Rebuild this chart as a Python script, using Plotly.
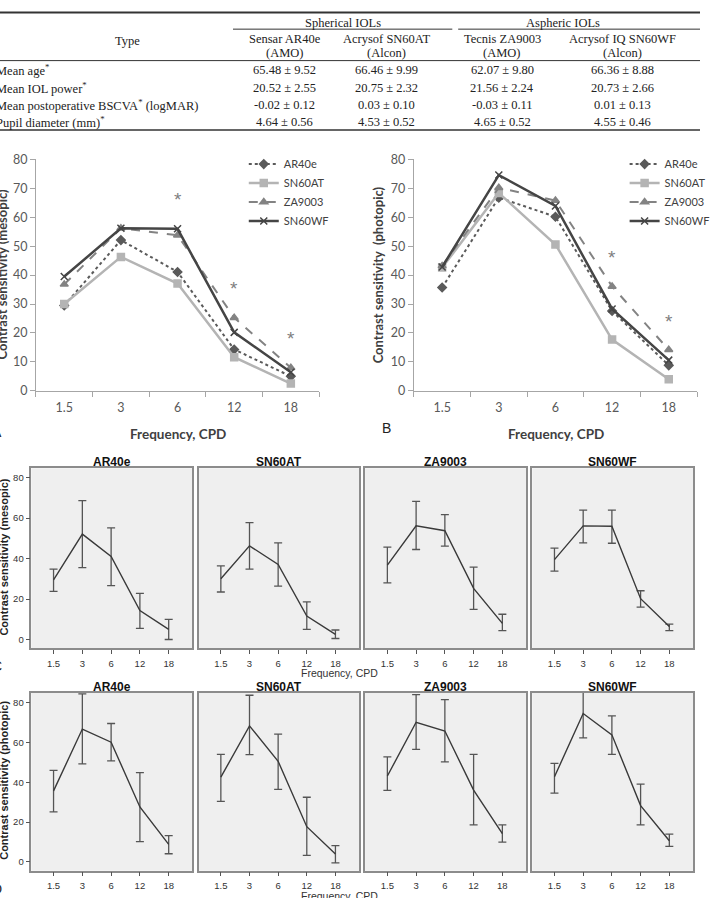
import plotly.graph_objects as go

W, H = 715, 898
def px(x): return x / W
def py(y): return 1 - y / H

# ---------------- data ----------------
freq = ["1.5", "3", "6", "12", "18"]
lenses = ["AR40e", "SN60AT", "ZA9003", "SN60WF"]

# Panel A (mesopic) means
meso_AR40e = [29.5, 52.1, 41.1, 14.3, 5.0]
meso_SN60AT = [30.0, 46.3, 37.1, 11.6, 2.5]
meso_ZA9003 = [36.8, 56.2, 53.8, 25.3, 8.0]
meso_SN60WF = [39.5, 56.2, 56.0, 20.2, 6.4]

# Panel B (photopic) means
phot_AR40e = [35.7, 66.8, 60.2, 27.6, 8.8]
phot_SN60AT = [42.6, 68.4, 50.6, 17.7, 4.0]
phot_ZA9003 = [43.2, 70.2, 65.8, 36.1, 14.2]
phot_SN60WF = [42.8, 74.6, 63.9, 28.3, 10.6]

# Panel C (mesopic) error-bar limits
meso_lo_AR40e = [23.8, 35.5, 26.6, 5.5, 0.0]
meso_hi_AR40e = [34.8, 68.7, 55.2, 22.8, 10.0]
meso_lo_SN60AT = [23.5, 34.8, 26.4, 5.0, 0.5]
meso_hi_SN60AT = [36.4, 57.8, 47.8, 18.6, 4.7]
meso_lo_ZA9003 = [28.0, 44.5, 46.2, 14.9, 4.4]
meso_hi_ZA9003 = [45.7, 68.3, 61.7, 35.8, 12.5]
meso_lo_SN60WF = [33.8, 47.8, 47.6, 16.0, 4.4]
meso_hi_SN60WF = [45.2, 64.0, 64.0, 24.1, 7.6]

# Panel D (photopic) error-bar limits
phot_lo_AR40e = [25.2, 49.3, 50.8, 10.2, 4.1]
phot_hi_AR40e = [46.0, 84.5, 69.6, 44.9, 13.2]
phot_lo_SN60AT = [30.4, 53.9, 36.5, 3.3, -0.5]
phot_hi_SN60AT = [54.1, 83.8, 64.2, 32.5, 8.2]
phot_lo_ZA9003 = [36.0, 56.6, 50.3, 18.6, 9.9]
phot_hi_ZA9003 = [52.8, 84.1, 81.6, 54.1, 18.6]
phot_lo_SN60WF = [34.6, 62.4, 54.1, 18.6, 7.8]
phot_hi_SN60WF = [49.5, 87.0, 73.4, 39.1, 14.0]

# significance markers
meso_sig_freq = ["6", "12", "18"]
meso_sig_y = [65, 34.5, 17]
phot_sig_freq = ["12", "18"]
phot_sig_y = [45, 23]

# table
table_cols = ["Sensar AR40e", "Acrysof SN60AT", "Tecnis ZA9003", "Acrysof IQ SN60WF"]
table_makers = ["(AMO)", "(Alcon)", "(AMO)", "(Alcon)"]
table_rows = ["Mean age<sup>*</sup>", "Mean IOL power<sup>*</sup>",
              "Mean postoperative BSCVA<sup>*</sup> (logMAR)", "Pupil diameter (mm)<sup>*</sup>"]
table_vals = [
    ["65.48 ± 9.52", "66.46 ± 9.99", "62.07 ± 9.80", "66.36 ± 8.88"],
    ["20.52 ± 2.55", "20.75 ± 2.32", "21.56 ± 2.24", "20.73 ± 2.66"],
    ["-0.02 ± 0.12", "0.03 ± 0.10", "-0.03 ± 0.11", "0.01 ± 0.13"],
    ["4.64 ± 0.56", "4.53 ± 0.52", "4.65 ± 0.52", "4.55 ± 0.46"],
]

meso_means = dict(zip(lenses, [meso_AR40e, meso_SN60AT, meso_ZA9003, meso_SN60WF]))
phot_means = dict(zip(lenses, [phot_AR40e, phot_SN60AT, phot_ZA9003, phot_SN60WF]))
meso_lo = dict(zip(lenses, [meso_lo_AR40e, meso_lo_SN60AT, meso_lo_ZA9003, meso_lo_SN60WF]))
meso_hi = dict(zip(lenses, [meso_hi_AR40e, meso_hi_SN60AT, meso_hi_ZA9003, meso_hi_SN60WF]))
phot_lo = dict(zip(lenses, [phot_lo_AR40e, phot_lo_SN60AT, phot_lo_ZA9003, phot_lo_SN60WF]))
phot_hi = dict(zip(lenses, [phot_hi_AR40e, phot_hi_SN60AT, phot_hi_ZA9003, phot_hi_SN60WF]))

# ---------------- styles ----------------
line_styles = {
    "AR40e": dict(color="#5a5a5a", dash="dot", width=2, symbol="diamond", size=6.5),
    "SN60AT": dict(color="#b4b4b4", dash="solid", width=2.5, symbol="square", size=7),
    "ZA9003": dict(color="#838383", dash="dash", width=2, symbol="triangle-up", size=7),
    "SN60WF": dict(color="#454545", dash="solid", width=2.5, symbol="x-thin", size=7),
}

fig = go.Figure()

for lens in lenses:
    s = line_styles[lens]
    for vals, xa, ya, lg in [(meso_means[lens], "x", "y", "legend"),
                             (phot_means[lens], "x2", "y2", "legend2")]:
        fig.add_trace(go.Scatter(
            x=freq, y=vals, xaxis=xa, yaxis=ya, mode="lines+markers", name=lens,
            legend=lg,
            line=dict(color=s["color"], dash=s["dash"], width=s["width"]),
            marker=dict(symbol=s["symbol"], size=s["size"], color=s["color"],
                        line=dict(color=s["color"], width=1.5)),
        ))

# small multiples
for i, lens in enumerate(lenses):
    for means, lo, hi, k in [(meso_means, meso_lo, meso_hi, 3 + i),
                             (phot_means, phot_lo, phot_hi, 7 + i)]:
        m = means[lens]
        fig.add_trace(go.Scatter(
            x=freq, y=m, xaxis=f"x{k}", yaxis=f"y{k}", mode="lines", showlegend=False,
            line=dict(color="#3a3a3a", width=1.4),
            error_y=dict(type="data", symmetric=False,
                         array=[h - v for h, v in zip(hi[lens], m)],
                         arrayminus=[v - l for v, l in zip(m, lo[lens])],
                         color="#555555", thickness=1.3, width=4),
        ))

layout = dict(
    width=W, height=H, margin=dict(l=0, r=0, t=0, b=0),
    paper_bgcolor="white", plot_bgcolor="rgba(0,0,0,0)",
    font=dict(family="Lato", color="#404040"),
    showlegend=True,
)

axis_grey = "#a6a6a6"
# Panel A / B
for k, (x0, x1) in [("", (36.7, 326)), ("2", (422.7, 712))]:
    layout[f"xaxis{k}"] = dict(
        domain=[px(x0), px(x1)], type="category", range=[-0.5, 4.5],
        tickson="boundaries", ticks="outside", ticklen=5, tickcolor=axis_grey,
        showline=True, linecolor=axis_grey, linewidth=1, showgrid=False,
        tickfont=dict(size=12.5, color="#595959", family="Lato"),
        ticklabelstandoff=5,
        anchor=f"y{k}", fixedrange=True,
    )
    layout[f"yaxis{k}"] = dict(
        domain=[py(389.3), py(154)], range=[0, 80], dtick=10,
        ticks="outside", ticklen=5, tickcolor=axis_grey,
        showline=True, linecolor=axis_grey, linewidth=1, showgrid=False, zeroline=False,
        tickfont=dict(size=12.5, color="#595959", family="Lato"),
        anchor=f"x{k}", fixedrange=True,
    )

leg_common = dict(yanchor="top", xanchor="left", y=py(144),
                  font=dict(size=11, color="#404040", family="Lato"),
                  bgcolor="rgba(0,0,0,0)", itemwidth=30, tracegroupgap=0)
layout["legend"] = dict(x=px(249), **leg_common)
layout["legend2"] = dict(x=px(638), **leg_common)

# small multiples axes
sm_x = [(32, 196.5), (203, 366.7), (373, 537.3), (543.7, 707.8)]
rows = [(3, 468, 651.3, [-4.4, 84.7]), (7, 696.7, 877.3, [-4.4, 84.9])]
shapes = []
for base, top, bot, yr in rows:
    for i, (x0, x1) in enumerate(sm_x):
        k = base + i
        layout[f"xaxis{k}"] = dict(
            domain=[px(x0), px(x1)], type="category", range=[-0.772, 4.823],
            ticks="outside", ticklen=4, tickcolor="#555555", tickwidth=1.2,
            showline=True, mirror=True, linecolor="#8c8c8c", linewidth=1.5,
            showgrid=False, tickfont=dict(size=9.5, color="#333333", family="Liberation Sans"),
            ticklabelstandoff=1,
            anchor=f"y{k}", fixedrange=True,
        )
        layout[f"yaxis{k}"] = dict(
            domain=[py(bot), py(top)], range=yr, tickvals=[0, 20, 40, 60, 80],
            ticks="outside" if i == 0 else "", ticklen=4, tickcolor="#555555", tickwidth=1.2,
            showticklabels=(i == 0),
            showline=True, mirror=True, linecolor="#8c8c8c", linewidth=1.5,
            showgrid=False, zeroline=False,
            tickfont=dict(size=9.5, color="#333333", family="Liberation Sans"),
            anchor=f"x{k}", fixedrange=True,
        )
        shapes.append(dict(type="rect", xref=f"x{k} domain", yref=f"y{k} domain",
                           x0=0, x1=1, y0=0, y1=1, fillcolor="#efefef",
                           line=dict(width=0), layer="below"))

# table lines
def hline(y, x0, x1, w):
    shapes.append(dict(type="line", xref="paper", yref="paper",
                       x0=px(x0), x1=px(x1), y0=py(y), y1=py(y),
                       line=dict(color="#333333", width=w)))
hline(4.5, 0, 715, 2)
hline(21.5, 238, 462, 1)
hline(21.5, 468, 715, 1)
hline(53.5, 0, 715, 1)
hline(124, 0, 715, 1.5)

layout["shapes"] = shapes

ann = []
serif = dict(family="Liberation Serif", size=12.5, color="#222222")
def text(x, y, t, font, xanchor="center", yanchor="middle", angle=0):
    ann.append(dict(x=px(x), y=py(y), xref="paper", yref="paper", text=t,
                    showarrow=False, font=font, xanchor=xanchor, yanchor=yanchor,
                    textangle=angle))

col_x = [291, 395, 513, 636]
text(350, 15, "Spherical IOLs", serif)
text(575, 15, "Aspheric IOLs", serif)
text(130, 34, "Type", serif)
for cx, cname, mk in zip(col_x, table_cols, table_makers):
    text(cx, 31.5, cname, serif)
    text(cx, 46, mk, serif)
row_y = [63, 81, 99, 116]
for ry, rname, vals in zip(row_y, table_rows, table_vals):
    text(-6, ry, rname, serif, xanchor="left")
    for cx, v in zip(col_x, vals):
        text(cx, ry, v, serif)

# Panel A/B labels
bold_cal = dict(family="Lato", size=13.5, color="#404040", weight="bold")
ytitle_font = dict(family="Lato", size=13, color="#404040", weight="bold")
text(3, 271, "Contrast sensitivity (mesopic)", ytitle_font, angle=-90)
text(387, 271, "Contrast sensitivity  (photopic)", ytitle_font, angle=-90)
text(182, 433, "Frequency, CPD", bold_cal)
text(568, 433, "Frequency, CPD", bold_cal)
arial14 = dict(family="Liberation Sans", size=14, color="#222222")
text(4, 431, "A", arial14, xanchor="right")
text(388, 427, "B", arial14, xanchor="left")
text(4, 669, "C", arial14, xanchor="right")
text(4, 896, "D", arial14, xanchor="right")

# significance asterisks (category axes -> use category index)
star_font = dict(size=19, color="#7f7f7f", family="Liberation Sans")
for f, yv in zip(meso_sig_freq, meso_sig_y):
    ann.append(dict(x=freq.index(f), y=yv, xref="x", yref="y", text="*", showarrow=False,
                    font=star_font, yshift=3))
for f, yv in zip(phot_sig_freq, phot_sig_y):
    ann.append(dict(x=freq.index(f), y=yv, xref="x2", yref="y2", text="*", showarrow=False,
                    font=star_font, yshift=3))

# small multiple titles and axis labels
title_font = dict(family="Liberation Sans", size=12, color="#111111", weight="bold")
for (x0, x1), lens in zip(sm_x, lenses):
    text((x0 + x1) / 2, 462, lens, title_font)
    text((x0 + x1) / 2, 690.7, lens, title_font)
sm_lab = dict(family="Liberation Sans", size=11, color="#222222", weight="bold")
text(4, 558, "Contrast sensitivity (mesopic)", sm_lab, angle=-90)
text(4, 785, "Contrast sensitivity (photopic)", sm_lab, angle=-90)
freq_font = dict(family="Liberation Sans", size=10.5, color="#333333")
text(347, 676, "Frequency, CPD", freq_font)
text(347, 903, "Frequency, CPD", freq_font)

layout["annotations"] = ann
fig.update_layout(**layout)
fig.write_html("out.html")
